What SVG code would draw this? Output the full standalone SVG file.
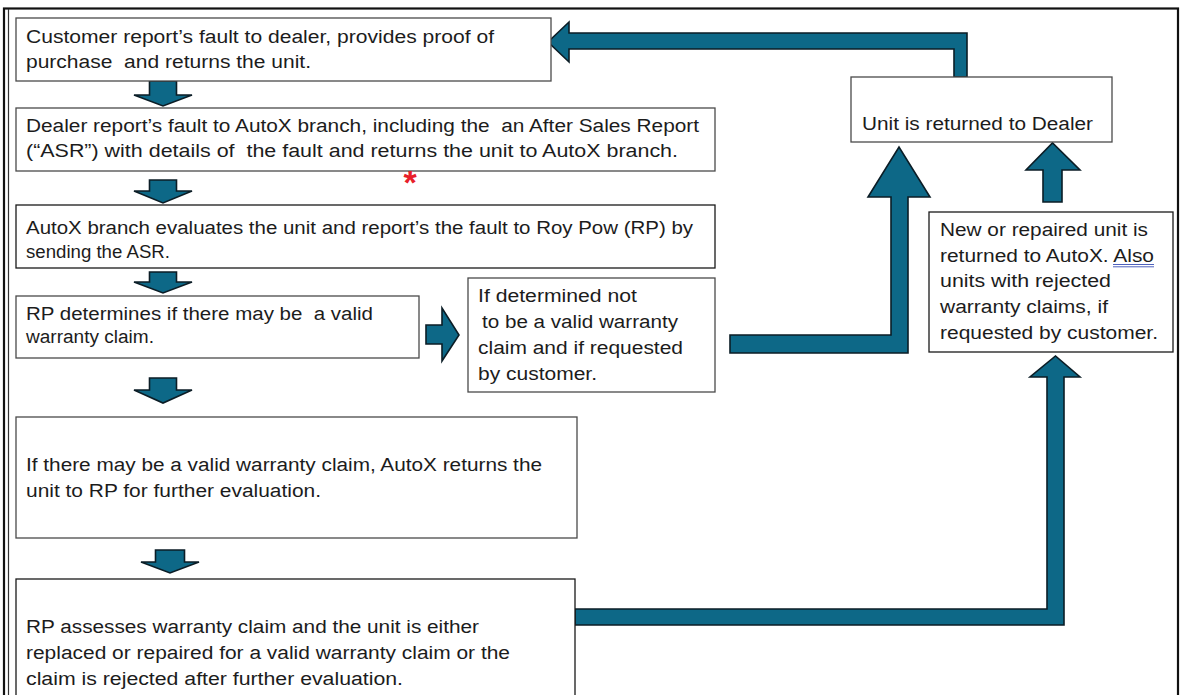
<svg xmlns="http://www.w3.org/2000/svg" width="1180" height="695" viewBox="0 0 1180 695">
<style>
.bx{fill:#fff;stroke:#4a4a4a;stroke-width:1.3}
.bxd{fill:#fff;stroke:#1a1a1a;stroke-width:1.3}
.t{font-family:"Liberation Sans",Arial,sans-serif;font-size:18px;fill:#1c1c1c;white-space:pre}
.ar{fill:#0d6887;stroke:#0b1d26;stroke-width:1.6;stroke-linejoin:miter}
</style>
<rect x="0" y="0" width="1180" height="695" fill="#fff"/>
<g id="frame">
<rect x="4" y="8.5" width="1174" height="700" fill="none" stroke="#111" stroke-width="2.2"/>
<line x1="8.5" y1="9" x2="8.5" y2="695" stroke="#333" stroke-width="1.2"/>
</g>
<g id="connectors">
<path class="ar" d="M149.5,81 H176.5 V95 H192 L163,106 L134,95 H149.5 Z"/>
<path class="ar" d="M149.5,180 H176.5 V191 H192 L163,203 L134,191 H149.5 Z"/>
<path class="ar" d="M149.5,272 H176.5 V282 H192 L163,293 L134,282 H149.5 Z"/>
<path class="ar" d="M149.5,378 H176.5 V390 H192 L163,403 L134,390 H149.5 Z"/>
<path class="ar" d="M155.5,550 H184.5 V562 H199 L170,573 L141,562 H155.5 Z"/>
<path class="ar" d="M426,325 H442 V308 L459,335 L442,361 V344 H426 Z"/>
<path class="ar" d="M730,335 H891 V197 H868 L899,147 L930,197 H908 V353 H730 Z"/>
<path class="ar" d="M954,77 V49 H569 V62 L548,42 L569,22 V33 H967 V77 Z"/>
<path class="ar" d="M1043,202 V170 H1026 L1052.5,143 L1080,170 H1062 V202 Z"/>
<path class="ar" d="M575,609 H1047 V377 H1030 L1055.5,356 L1080,377 H1064 V625 H575 Z"/>
</g>
<g id="n1">
<rect class="bx" x="16" y="18" width="535" height="63"/>
<text class="t" x="26" y="43" textLength="468" lengthAdjust="spacingAndGlyphs">Customer report’s fault to dealer, provides proof of</text>
<text class="t" x="26" y="68" textLength="285" lengthAdjust="spacingAndGlyphs">purchase  and returns the unit.</text>
</g>
<g id="n2">
<rect class="bx" x="16" y="108" width="699" height="63"/>
<text class="t" x="26" y="132" textLength="673" lengthAdjust="spacingAndGlyphs">Dealer report’s fault to AutoX branch, including the  an After Sales Report</text>
<text class="t" x="26" y="157" textLength="652" lengthAdjust="spacingAndGlyphs">(“ASR”) with details of  the fault and returns the unit to AutoX branch.</text>
<text x="410" y="194" text-anchor="middle" font-family="Liberation Sans, Arial, sans-serif" font-size="34" font-weight="bold" fill="#e8202a">*</text>
</g>
<g id="n3">
<rect class="bxd" x="16" y="205" width="699" height="63"/>
<text class="t" x="26" y="234" textLength="667" lengthAdjust="spacingAndGlyphs">AutoX branch evaluates the unit and report’s the fault to Roy Pow (RP) by</text>
<text class="t" x="26" y="258" textLength="144" lengthAdjust="spacingAndGlyphs">sending the ASR.</text>
</g>
<g id="n4">
<rect class="bx" x="16" y="296" width="403" height="62"/>
<text class="t" x="26" y="320" textLength="347" lengthAdjust="spacingAndGlyphs">RP determines if there may be  a valid</text>
<text class="t" x="26" y="343" textLength="128" lengthAdjust="spacingAndGlyphs">warranty claim.</text>
</g>
<g id="n5">
<rect class="bx" x="468" y="278" width="247" height="114"/>
<text class="t" x="478" y="302" textLength="159" lengthAdjust="spacingAndGlyphs">If determined not</text>
<text class="t" x="482" y="328" textLength="196" lengthAdjust="spacingAndGlyphs">to be a valid warranty</text>
<text class="t" x="478" y="354" textLength="205" lengthAdjust="spacingAndGlyphs">claim and if requested</text>
<text class="t" x="478" y="380" textLength="119" lengthAdjust="spacingAndGlyphs">by customer.</text>
</g>
<g id="n6">
<rect class="bx" x="16" y="417" width="561" height="121"/>
<text class="t" x="26" y="471" textLength="516" lengthAdjust="spacingAndGlyphs">If there may be a valid warranty claim, AutoX returns the</text>
<text class="t" x="26" y="497" textLength="295" lengthAdjust="spacingAndGlyphs">unit to RP for further evaluation.</text>
</g>
<g id="n7">
<rect class="bxd" x="16" y="579" width="559" height="130"/>
<text class="t" x="26" y="633" textLength="453" lengthAdjust="spacingAndGlyphs">RP assesses warranty claim and the unit is either</text>
<text class="t" x="26" y="659" textLength="484" lengthAdjust="spacingAndGlyphs">replaced or repaired for a valid warranty claim or the</text>
<text class="t" x="26" y="685" textLength="377" lengthAdjust="spacingAndGlyphs">claim is rejected after further evaluation.</text>
</g>
<g id="n8">
<rect class="bx" x="851" y="77" width="261" height="65"/>
<text class="t" x="862" y="130" textLength="231" lengthAdjust="spacingAndGlyphs">Unit is returned to Dealer</text>
</g>
<g id="n9">
<rect class="bxd" x="929" y="212" width="244" height="140"/>
<text class="t" x="940" y="236" textLength="208" lengthAdjust="spacingAndGlyphs">New or repaired unit is</text>
<text class="t" x="940" y="262" textLength="214" lengthAdjust="spacingAndGlyphs">returned to AutoX. Also</text>
<line x1="1113" y1="264.5" x2="1154" y2="264.5" stroke="#3a4fb5" stroke-width="0.9"/>
<line x1="1113" y1="266.8" x2="1154" y2="266.8" stroke="#3a4fb5" stroke-width="0.9"/>
<text class="t" x="940" y="287" textLength="171" lengthAdjust="spacingAndGlyphs">units with rejected</text>
<text class="t" x="940" y="313" textLength="168" lengthAdjust="spacingAndGlyphs">warranty claims, if</text>
<text class="t" x="940" y="339" textLength="218" lengthAdjust="spacingAndGlyphs">requested by customer.</text>
</g>
</svg>
